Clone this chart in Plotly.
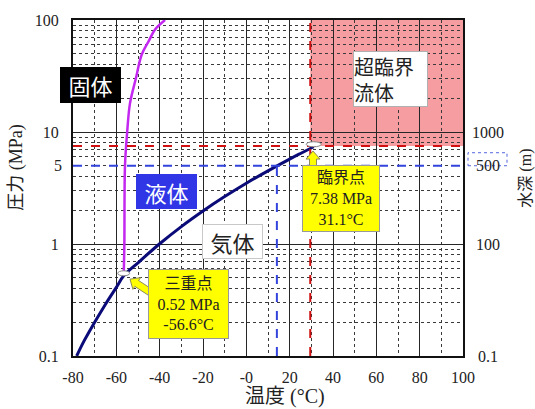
import math
import plotly.graph_objects as go

# ---------------- data ----------------
# CO2 sublimation / vapour-pressure curve (temperature °C, pressure MPa)
vap_T = [-78.3, -75, -70, -65, -60, -56.6, -50, -40, -30, -20, -10, 0, 10, 20, 25, 31.1]
vap_P = [0.10, 0.135, 0.20, 0.29, 0.41, 0.52, 0.68, 1.005, 1.43, 1.97, 2.65, 3.49, 4.50, 5.73, 6.43, 7.38]

# melting curve
melt_T = [-56.6, -56.3, -56.0, -55.0, -53.7, -51.0, -48.3, -45.0, -42.2, -37.5]
melt_P = [0.52, 1.0, 5.0, 10.0, 18.0, 30.0, 49.0, 65.0, 82.0, 100.0]

triple_T, triple_P = -56.6, 0.52
crit_T, crit_P = 31.1, 7.38

# guide lines
red_T, red_P = 29.5, 7.5       # supercritical boundary lines
blue_T, blue_P = 14.1, 5.0     # 500 m depth line

x_tickvals = [-80, -60, -40, -20, 0, 20, 40, 60, 80, 100]
x_ticktext = ["-80", "-60", "-40", "-20", "-0", "20", "40", "60", "80", "100"]
x_minor = [-70, -50, -30, -10, 10, 30, 50, 70, 90]

y_grid_vals = [0.1, 1, 10, 100]
y_grid_text = ["0.1", "1", "10", "100"]
y_extra_vals = [5]
y_extra_text = ["5"]
y_minor = [0.2, 0.3, 0.4, 0.5, 0.6, 0.7, 0.8, 0.9,
           2, 3, 4, 5, 6, 7, 8, 9,
           20, 30, 40, 50, 60, 70, 80, 90]

right_vals = [0.1, 1, 5, 10]
right_text = ["0.1", "100", "500", "1000"]

# ---------------- layout geometry ----------------
W, H = 535, 409
L, R, T, B = 73, 463, 15, 356   # plot area in pixels


def px(xp):
    return (xp - L) / (R - L)


def py(yp):
    return (B - yp) / (B - T)


SERIF = "Liberation Serif, Times New Roman, DejaVu Serif, Noto Sans CJK JP, serif"
SANS = "Noto Sans CJK JP"

fig = go.Figure()

fig.add_trace(go.Scatter(x=vap_T, y=vap_P, mode="lines",
                         line=dict(color="#0a0a78", width=3, shape="spline"),
                         hoverinfo="skip"))
fig.add_trace(go.Scatter(x=melt_T, y=melt_P, mode="lines",
                         line=dict(color="#c428f0", width=2.5, shape="spline"),
                         hoverinfo="skip"))

shapes = []
# supercritical region
shapes.append(dict(type="rect", xref="x", yref="y", x0=red_T, x1=100, y0=red_P, y1=100,
                   fillcolor="rgba(240,105,110,0.65)", line=dict(width=0), layer="below"))
# red dashed
shapes.append(dict(type="line", xref="paper", yref="y", x0=0, x1=px(469), y0=red_P, y1=red_P,
                   line=dict(color="#d01010", width=2, dash="dash")))
shapes.append(dict(type="line", xref="x", yref="y", x0=red_T, x1=red_T, y0=0.1, y1=100,
                   line=dict(color="#d01010", width=2, dash="dash")))
# blue dashed
shapes.append(dict(type="line", xref="paper", yref="y", x0=0, x1=px(469), y0=blue_P, y1=blue_P,
                   line=dict(color="#3344dd", width=2, dash="dash")))
shapes.append(dict(type="line", xref="x", yref="y", x0=blue_T, x1=blue_T, y0=0.1, y1=blue_P,
                   line=dict(color="#3344dd", width=2, dash="dash")))
# 500 box (dotted)
shapes.append(dict(type="rect", xref="paper", yref="y", ysizemode="pixel", yanchor=5,
                   x0=px(468), x1=px(507), y0=-13, y1=13,
                   line=dict(color="#5566dd", width=1, dash="dot"), fillcolor="rgba(0,0,0,0)"))
# point markers (ellipses)
shapes.append(dict(type="circle", xref="x", yref="y", xsizemode="pixel", ysizemode="pixel",
                   xanchor=triple_T, yanchor=triple_P, x0=-6, x1=6, y0=-5, y1=5,
                   fillcolor="white", line=dict(color="#888888", width=1)))
shapes.append(dict(type="circle", xref="x", yref="y", xsizemode="pixel", ysizemode="pixel",
                   xanchor=crit_T, yanchor=crit_P, x0=-7.5, x1=7.5, y0=-5, y1=5,
                   fillcolor="white", line=dict(color="#888888", width=1)))


# block arrows (yellow with grey outline), tip anchored in paper coords, geometry in pixels
def block_arrow(tip_x, tip_y, tail_dx, tail_dy, head_len=8, head_half=7, shaft_half=3.5):
    ux, uy = tail_dx, -tail_dy
    ln = math.hypot(ux, uy)
    ux, uy = ux / ln, uy / ln
    nx, ny = -uy, ux
    pts = [(0, 0),
           (ux * head_len + nx * head_half, uy * head_len + ny * head_half),
           (ux * head_len + nx * shaft_half, uy * head_len + ny * shaft_half),
           (ux * ln + nx * shaft_half, uy * ln + ny * shaft_half),
           (ux * ln - nx * shaft_half, uy * ln - ny * shaft_half),
           (ux * head_len - nx * shaft_half, uy * head_len - ny * shaft_half),
           (ux * head_len - nx * head_half, uy * head_len - ny * head_half)]
    path = "M " + " L ".join(f"{a:.2f},{b:.2f}" for a, b in pts) + " Z"
    shapes.append(dict(type="path", xref="paper", yref="paper", xsizemode="pixel", ysizemode="pixel",
                       xanchor=px(tip_x), yanchor=py(tip_y), path=path,
                       fillcolor="#ffff00", line=dict(color="#8c8c5a", width=1)))


block_arrow(313, 148, 0, 17)
block_arrow(130, 278, 20, 13)

ann = []


def box(text, cx, cy, w, h, bg, fg, border, size, family=SANS, align="center", bw=1):
    ann.append(dict(text=text, xref="paper", yref="paper", x=px(cx), y=py(cy),
                    xanchor="center", yanchor="middle", showarrow=False,
                    width=w - 2 * bw, height=h - 2 * bw, borderpad=0, borderwidth=bw,
                    bgcolor=bg, bordercolor=border, align=align,
                    font=dict(family=family, size=size, color=fg)))


box("固体", 90.5, 81, 61, 36, "#000000", "white", "#000000", 22)
box("液体", 166.5, 189.5, 61, 35, "#3036e6", "white", "#3036e6", 22)
box("気体", 232.5, 239.5, 61, 35, "white", "#222222", "#c8c8c8", 22)
box("超臨界<br>流体", 390.5, 75, 75, 56, "white", "#222222", "#b0b0b0", 20, align="left")

box("臨界点<br>7.38 MPa<br>31.1°C", 341, 196.5, 78, 67, "#ffff00", "#222222", "#999999", 16, family=SERIF)
box("三重点<br>0.52 MPa<br>-56.6°C", 188.5, 303, 81, 70, "#ffff00", "#222222", "#999999", 16, family=SERIF)

# extra left tick label (5)
for v, t in zip(y_extra_vals, y_extra_text):
    ann.append(dict(text=t, xref="paper", yref="y", x=0, y=math.log10(v), xanchor="right",
                    yanchor="middle", xshift=-9, showarrow=False,
                    font=dict(family=SERIF, size=16, color="#222222")))
# right axis labels (water depth)
for v, t in zip(right_vals, right_text):
    ann.append(dict(text=t, xref="paper", yref="y", x=px(487.5), y=math.log10(v), xanchor="center",
                    yanchor="middle", showarrow=False,
                    font=dict(family=SERIF, size=16, color="#222222")))

# axis titles
ann.append(dict(text="温度 (°C)", xref="paper", yref="paper", x=px(285), y=py(397),
                xanchor="center", yanchor="middle", showarrow=False,
                font=dict(family=SERIF, size=20, color="#222222")))
ann.append(dict(text="圧力 (MPa)", xref="paper", yref="paper", x=px(17), y=py(165),
                xanchor="center", yanchor="middle", showarrow=False, textangle=-90,
                font=dict(family=SERIF, size=18, color="#222222")))
ann.append(dict(text="水深 (m)", xref="paper", yref="paper", x=px(526), y=py(176),
                xanchor="center", yanchor="middle", showarrow=False, textangle=-90,
                font=dict(family=SERIF, size=16, color="#222222")))

fig.update_layout(
    width=W, height=H,
    margin=dict(l=L, r=W - R, t=T, b=H - B, pad=0),
    paper_bgcolor="white", plot_bgcolor="white",
    showlegend=False,
    shapes=shapes, annotations=ann,
    font=dict(family=SERIF, size=16, color="#222222"),
)
fig.update_xaxes(range=[-80, 100], tickmode="array", tickvals=x_tickvals, ticktext=x_ticktext,
                 showgrid=True, gridcolor="#262626", gridwidth=1,
                 minor=dict(tickmode="array", tickvals=x_minor, showgrid=True,
                            gridcolor="#3a3a3a", gridwidth=1, griddash="dot", ticks=""),
                 showline=True, mirror=True, linecolor="#111111", linewidth=2,
                 ticks="", ticklabelstandoff=6, zeroline=False,
                 tickfont=dict(family=SERIF, size=16, color="#222222"))
fig.update_yaxes(type="log", range=[-1, 2], tickmode="array", tickvals=y_grid_vals, ticktext=y_grid_text,
                 showgrid=True, gridcolor="#262626", gridwidth=1,
                 minor=dict(tickmode="array", tickvals=y_minor, showgrid=True,
                            gridcolor="#3a3a3a", gridwidth=1, griddash="dot", ticks=""),
                 showline=True, mirror=True, linecolor="#111111", linewidth=2,
                 ticks="", ticklabelstandoff=9, zeroline=False,
                 tickfont=dict(family=SERIF, size=16, color="#222222"))

fig.write_html("out.html")
